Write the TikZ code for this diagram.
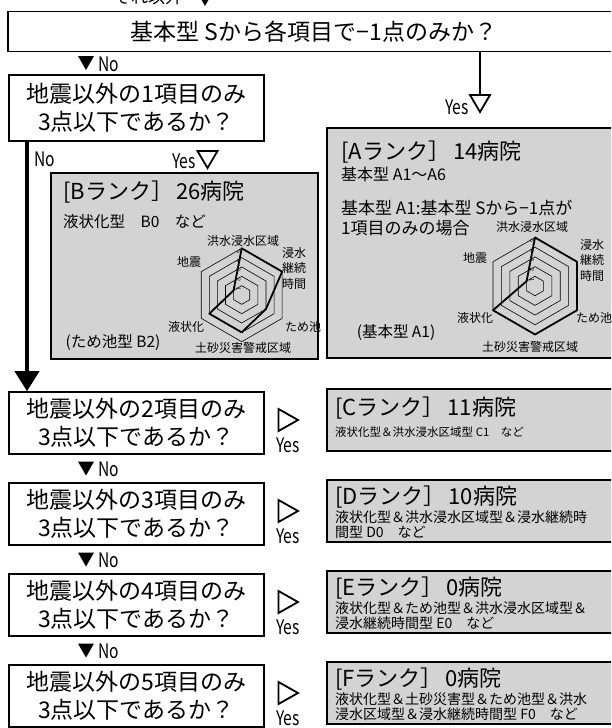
\documentclass[tikz,border=0pt]{standalone}
\usepackage{fontspec}
\setmainfont{Noto Sans CJK JP}
\newfontfamily\ynfont[FakeStretch=0.78]{Noto Sans CJK JP}
\usetikzlibrary{arrows.meta}
\definecolor{rankgray}{RGB}{211,211,211}
\begin{document}
\begin{tikzpicture}[x=1pt,y=-1pt,
  qbox/.style={draw, line width=1.6pt, fill=white, minimum width=255pt, minimum height=62pt, inner sep=0pt, align=center, font=\fontsize{23}{28.5}\selectfont},
  rbox/.style={draw, line width=1.6pt, fill=rankgray, inner sep=0pt},
  ttl/.style={anchor=west, inner sep=0pt, font=\fontsize{22}{25}\selectfont},
  sub/.style={anchor=west, inner sep=0pt, align=left, font=\fontsize{14}{15}\selectfont},
  lab/.style={inner sep=0pt, font=\fontsize{12}{15.5}\selectfont, align=center},
  yn/.style={inner sep=0pt, font=\ynfont\fontsize{20}{22}\selectfont},
  ring/.style={line width=0.6pt},
  dat/.style={line width=1.8pt, line join=round},
  dtri/.pic={\fill (-8,-7) -- (8,-7) -- (0,7) -- cycle;},
  otri/.pic={\draw[line width=1.8pt, fill=white, line join=miter] (-10,-8.5) -- (10,-8.5) -- (0,8.5) -- cycle;},
  rtri/.pic={\draw[line width=1.8pt, fill=white, line join=miter] (-9.5,-11) -- (10,0) -- (-9.5,11) -- cycle;},
  dig/.style={inner sep=0pt, font=\fontsize{5.5}{6}\selectfont, rotate=-90}
]
\useasboundingbox (0,0) rectangle (611,728);
\clip (0,0) rectangle (611,728);

% previous step (cut off)
\node[font=\fontsize{17}{20}\selectfont, inner sep=0pt] (prev) at (148,-3) {それ以外};
\pic at (205,-1) {dtri};

% top question
\node[qbox, minimum width=612pt, minimum height=40pt] (q0) at (314,31.5) {基本型 Sから各項目で−1点のみか？};

\pic at (86,63) {dtri};
\node[yn, anchor=west] (no0) at (98,64) {No};

% question 1
\node[qbox, minimum height=66pt] (q1) at (136.5,108) {地震以外の1項目のみ\\3点以下であるか？};

% Yes to A
\coordinate (ya) at (480,95);
\draw[line width=1.6pt] (q0.south -| ya) -- (ya);
\pic at (480,103.5) {otri};
\node[yn, anchor=east] (yesA) at (469,107) {Yes};

% A rank box
\node[rbox, minimum width=293pt, minimum height=230pt] (rA) at (473.5,243) {};
\node[ttl] (tA) at (341,152) {[Aランク］\hspace{3pt}14病院};
\node[sub, font=\fontsize{16}{18}\selectfont] (sA1) at (341,174) {基本型 A1～A6};
\node[sub, font=\fontsize{17}{19}\selectfont] (sA2) at (341,208) {基本型 A1:基本型 Sから−1点が};
\node[sub, font=\fontsize{17}{19}\selectfont] (sA3) at (341,228) {1項目のみの場合};
\node[inner sep=0pt, font=\fontsize{15.5}{18}\selectfont] (sA4) at (396,333) {(基本型 A1)};

% A radar
\begin{scope}[shift={(535,286)}, yscale=-1]
  \foreach \k in {1,...,5} {
    \draw[ring] (90:\k*9.7) -- (30:\k*9.7) -- (-30:\k*9.7) -- (-90:\k*9.7) -- (-150:\k*9.7) -- (150:\k*9.7) -- cycle;
    \node[dig] at (-3,\k*9.7-3.5) {\k};
  }
  \draw[dat] (90:48.5) -- (30:48.5) -- (-30:48.5) -- (-90:48.5) -- (-150:48.5) -- (150:9.7) -- cycle;
\end{scope}
\node[lab] (aL1) at (532,227) {洪水浸水区域};
\node[lab] (aL2) at (592,260) {浸水\\継続\\時間};
\node[lab] (aL3) at (594,318) {ため池};
\node[lab] (aL4) at (530,347) {土砂災害警戒区域};
\node[lab] (aL5) at (475,318) {液状化};
\node[lab] (aL6) at (475,258) {地震};

% No / Yes under question 1
\node[yn] (no1) at (45,159) {No};
\node[yn, anchor=east] (yesB) at (196,161) {Yes};
\pic at (207.5,159.5) {otri};

% B rank box
\node[rbox, minimum width=267pt, minimum height=186pt] (rB) at (184.5,266) {};
\node[ttl] (tB) at (63,192) {[Bランク］\hspace{3pt}26病院};
\node[sub, font=\fontsize{15.5}{18}\selectfont] (sB1) at (63,222) {液状化型　B0　など};
\node[inner sep=0pt, font=\fontsize{15.5}{18}\selectfont] (sB2) at (113,343) {(ため池型 B2)};

% B radar
\begin{scope}[shift={(241.7,295)}, yscale=-1]
  \foreach \k in {1,...,5} {
    \draw[ring] (90:\k*9.34) -- (30:\k*9.34) -- (-30:\k*9.34) -- (-90:\k*9.34) -- (-150:\k*9.34) -- (150:\k*9.34) -- cycle;
    \node[dig] at (-3,\k*9.34-3.5) {\k};
  }
  \draw[dat] (90:46.7) -- (30:46.7) -- (-30:28.02) -- (-90:37.36) -- (-150:37.36) -- (150:9.34) -- cycle;
\end{scope}
\node[lab] (bL1) at (243,241) {洪水浸水区域};
\node[lab] (bL2) at (294,268) {浸水\\継続\\時間};
\node[lab] (bL3) at (303,327) {ため池};
\node[lab] (bL4) at (243,348) {土砂災害警戒区域};
\node[lab] (bL5) at (186,327) {液状化};
\node[lab] (bL6) at (189,262) {地震};

% questions 2-5
\node[qbox] (q2) at (136.5,423) {地震以外の2項目のみ\\3点以下であるか？};
\node[qbox] (q3) at (136.5,514) {地震以外の3項目のみ\\3点以下であるか？};
\node[qbox] (q4) at (136.5,605) {地震以外の4項目のみ\\3点以下であるか？};
\node[qbox] (q5) at (136.5,696) {地震以外の5項目のみ\\3点以下であるか？};

% big No arrow
\coordinate (nx) at (27,0);
\draw[line width=4pt, -{Triangle[width=24pt,length=20pt]}] (q1.south -| nx) -- (q2.north -| nx);

% No markers
\pic at (86,468.5) {dtri};  \node[yn, anchor=west] (no2) at (98,469.5) {No};
\pic at (86,559.5) {dtri};  \node[yn, anchor=west] (no3) at (98,560.5) {No};
\pic at (86,650.5) {dtri};  \node[yn, anchor=west] (no4) at (98,651.5) {No};

% Yes markers
\pic at (288,420) {rtri};  \node[yn] (yC) at (288,445) {Yes};
\pic at (288,511) {rtri};  \node[yn] (yD) at (288,536) {Yes};
\pic at (288,602) {rtri};  \node[yn] (yE) at (288,627) {Yes};
\pic at (288,693) {rtri};  \node[yn] (yF) at (288,718) {Yes};

% rank boxes C-F
\node[rbox, minimum width=293pt, minimum height=62pt] (rC) at (473.5,420) {};
\node[ttl] (tC) at (335,408) {[Cランク］\hspace{3pt}11病院};
\node[sub, font=\fontsize{11.5}{14}\selectfont] (sC) at (335,432) {液状化型＆洪水浸水区域型 C1　など};

\node[rbox, minimum width=293pt, minimum height=62pt] (rD) at (473.5,511) {};
\node[ttl] (tD) at (335,497) {[Dランク］\hspace{3pt}10病院};
\node[sub] (sD) at (335,524.5) {液状化型＆洪水浸水区域型＆浸水継続時\\間型 D0　など};

\node[rbox, minimum width=293pt, minimum height=62pt] (rE) at (473.5,602) {};
\node[ttl] (tE) at (335,588) {[Eランク］\hspace{3pt}0病院};
\node[sub] (sE) at (335,615.5) {液状化型＆ため池型＆洪水浸水区域型＆\\浸水継続時間型 E0　など};

\node[rbox, minimum width=293pt, minimum height=62pt] (rF) at (473.5,693) {};
\node[ttl] (tF) at (335,679) {[Fランク］\hspace{3pt}0病院};
\node[sub] (sF) at (335,706.5) {液状化型＆土砂災害型＆ため池型＆洪水\\浸水区域型＆浸水継続時間型 F0　など};
\end{tikzpicture}
\end{document}
